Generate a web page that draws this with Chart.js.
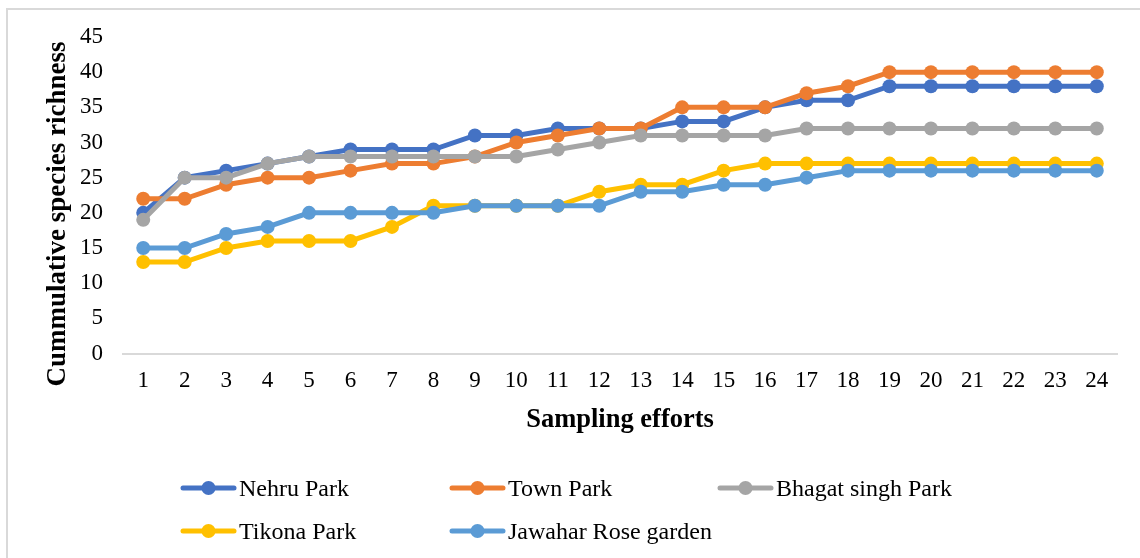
<!DOCTYPE html>
<html>
<head>
<meta charset="utf-8">
<title>Cummulative species richness</title>
<script src="https://cdn.jsdelivr.net/npm/chart.js@4/dist/chart.umd.min.js"></script>
<style>
  html, body { margin: 0; padding: 0; background: #ffffff; }
  #wrap { position: relative; width: 1140px; height: 558px; overflow: hidden; }
  #frame { position: absolute; left: 6px; top: 8px; width: 1200px; height: 600px;
           border-left: 2px solid #d9d9d9; border-top: 2px solid #d9d9d9; box-sizing: border-box; }
  #c { position: absolute; left: 0; top: 0; }
</style>
</head>
<body>
<div id="wrap">
  <div id="frame"></div>
  <canvas id="c" width="1140" height="558"></canvas>
</div>
<script>
// Sampling effort number (x axis categories)
const efforts = ['1','2','3','4','5','6','7','8','9','10','11','12',
                 '13','14','15','16','17','18','19','20','21','22','23','24'];

// Cumulative species count per park
const nehruPark     = [20,25,26,27,28,29,29,29,31,31,32,32,32,33,33,35,36,36,38,38,38,38,38,38];
const townPark      = [22,22,24,25,25,26,27,27,28,30,31,32,32,35,35,35,37,38,40,40,40,40,40,40];
const bhagatSingh   = [19,25,25,27,28,28,28,28,28,28,29,30,31,31,31,31,32,32,32,32,32,32,32,32];
const tikonaPark    = [13,13,15,16,16,16,18,21,21,21,21,23,24,24,26,27,27,27,27,27,27,27,27,27];
const jawaharRose   = [15,15,17,18,20,20,20,20,21,21,21,21,23,23,24,24,25,26,26,26,26,26,26,26];

const seriesNames   = ['Nehru Park','Town Park','Bhagat singh Park','Tikona Park','Jawahar Rose garden'];
const yTicks        = [0,5,10,15,20,25,30,35,40,45];

const colors = ['#4472C4','#ED7D31','#A5A5A5','#FFC000','#5B9BD5'];
const values = [nehruPark, townPark, bhagatSingh, tikonaPark, jawaharRose];

const SERIF = '"Liberation Serif", "Times New Roman", serif';

// later series are painted over earlier ones
const datasets = values.map((v, i) => ({
  label: seriesNames[i],
  data: v,
  borderColor: colors[i],
  backgroundColor: colors[i],
  pointBackgroundColor: colors[i],
  pointBorderColor: colors[i],
  borderWidth: 5,
  pointRadius: 7,
  pointBorderWidth: 0,
  pointHoverRadius: 7,
  tension: 0,
  order: values.length - i
}));

// legend slots: [x of line start, y of centre]
const legendSlots = [[181, 488], [450, 488], [718, 488], [181, 531], [450, 531]];

const annotations = {
  id: 'annotations',
  afterDraw(chart) {
    const ctx = chart.ctx;
    const area = chart.chartArea;
    ctx.save();
    ctx.fillStyle = '#000000';

    // y axis title
    ctx.font = 'bold 27px ' + SERIF;
    ctx.save();
    ctx.translate(65, 214);
    ctx.rotate(-Math.PI / 2);
    ctx.textAlign = 'center';
    ctx.textBaseline = 'alphabetic';
    ctx.fillText('Cummulative species richness', 0, 0);
    ctx.restore();

    // x axis title
    ctx.font = 'bold 26.5px ' + SERIF;
    ctx.textAlign = 'center';
    ctx.textBaseline = 'alphabetic';
    ctx.fillText('Sampling efforts', (area.left + area.right) / 2, 427);

    // legend
    ctx.font = '24px ' + SERIF;
    ctx.textAlign = 'left';
    chart.data.datasets.forEach((ds, i) => {
      const [x, y] = legendSlots[i];
      ctx.strokeStyle = ds.borderColor;
      ctx.lineWidth = 5;
      ctx.lineCap = 'round';
      ctx.beginPath();
      ctx.moveTo(x + 2, y);
      ctx.lineTo(x + 53, y);
      ctx.stroke();
      ctx.fillStyle = ds.borderColor;
      ctx.beginPath();
      ctx.arc(x + 27.5, y, 7, 0, Math.PI * 2);
      ctx.fill();
      ctx.fillStyle = '#000000';
      ctx.fillText(ds.label, x + 58, y + 8);
    });
    ctx.restore();
  }
};

new Chart(document.getElementById('c'), {
  type: 'line',
  data: { labels: efforts, datasets },
  plugins: [annotations],
  options: {
    responsive: false,
    devicePixelRatio: 1,
    animation: false,
    events: [],
    layout: { padding: { left: 0, right: 22.5, top: 37, bottom: 144.5 } },
    plugins: { legend: { display: false }, tooltip: { enabled: false } },
    scales: {
      x: {
        offset: true,
        grid: { display: false, drawTicks: false },
        border: { display: true, color: '#d9d9d9', width: 2 },
        ticks: { color: '#000000', font: { family: SERIF, size: 23 }, padding: 14, maxRotation: 0, autoSkip: false },
        afterFit(s) { s.height = 60; }
      },
      y: {
        min: 0,
        max: 45,
        afterBuildTicks(s) { s.ticks = yTicks.map(v => ({ value: v })); },
        grid: { display: false, drawTicks: false },
        border: { display: false },
        ticks: { color: '#000000', font: { family: SERIF, size: 23 }, padding: 19.5 },
        afterFit(s) { s.width = 122.5; }
      }
    }
  }
});
</script>
</body>
</html>
